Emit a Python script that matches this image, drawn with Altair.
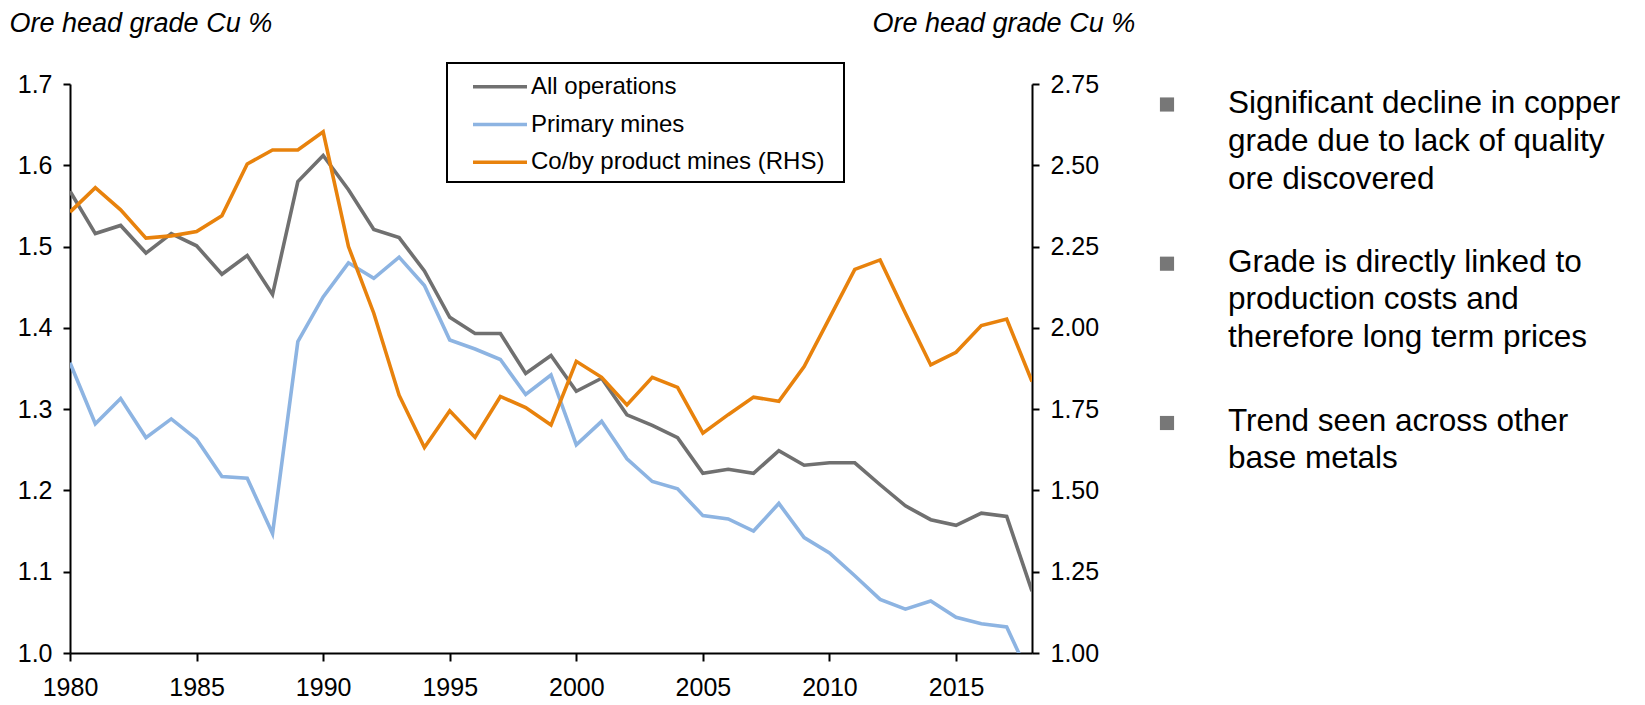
import altair as alt
import pandas as pd

# ---------------- data ----------------
years = list(range(1980, 2019))

all_operations = [1.568, 1.516, 1.526, 1.492, 1.516, 1.501, 1.466, 1.489, 1.441, 1.580,
                  1.612, 1.570, 1.521, 1.511, 1.470, 1.413, 1.393, 1.393, 1.344, 1.366,
                  1.322, 1.338, 1.293, 1.280, 1.265, 1.221, 1.226, 1.221, 1.249, 1.231,
                  1.234, 1.234, 1.207, 1.181, 1.164, 1.157, 1.172, 1.168, 1.076]

primary_mines = [1.357, 1.282, 1.313, 1.265, 1.288, 1.263, 1.217, 1.215, 1.147, 1.383,
                 1.438, 1.480, 1.461, 1.487, 1.452, 1.385, 1.374, 1.361, 1.318, 1.342,
                 1.256, 1.285, 1.239, 1.211, 1.202, 1.169, 1.165, 1.150, 1.184, 1.142,
                 1.123, 1.095, 1.066, 1.054, 1.064, 1.044, 1.036, 1.032, 0.965]

coby_product_mines = [2.356, 2.431, 2.363, 2.276, 2.283, 2.296, 2.345, 2.504, 2.547, 2.547,
                      2.603, 2.250, 2.045, 1.793, 1.632, 1.745, 1.663, 1.789, 1.755, 1.701,
                      1.897, 1.848, 1.763, 1.848, 1.817, 1.676, 1.733, 1.787, 1.774, 1.881,
                      2.030, 2.180, 2.209, 2.045, 1.886, 1.925, 2.007, 2.027, 1.835]

series_names = ["All operations", "Primary mines", "Co/by product mines (RHS)"]
series_colors = ["#707070", "#8DB4E2", "#E8820C"]

axis_title = "Ore head grade Cu %"
x_ticks = [1980, 1985, 1990, 1995, 2000, 2005, 2010, 2015]
left_ticks = [1.0, 1.1, 1.2, 1.3, 1.4, 1.5, 1.6, 1.7]
right_ticks = [1.0, 1.25, 1.5, 1.75, 2.0, 2.25, 2.5, 2.75]

bullet_texts = [
    "Significant decline in copper\ngrade due to lack of quality\nore discovered",
    "Grade is directly linked to\nproduction costs and\ntherefore long term prices",
    "Trend seen across other\nbase metals",
]

# ---------------- layout / style ----------------
FONT = "Liberation Sans"
W, H = 962, 569

left_df = pd.DataFrame({
    "year": years * 2,
    "value": all_operations + primary_mines,
    "series": [series_names[0]] * len(years) + [series_names[1]] * len(years),
})
right_df = pd.DataFrame({
    "year": years,
    "value": coby_product_mines,
    "series": [series_names[2]] * len(years),
})
legend_df = pd.DataFrame({"series": series_names})

color = alt.Color(
    "series:N",
    scale=alt.Scale(domain=series_names, range=series_colors),
    legend=None,
)

x_enc = alt.X(
    "year:Q",
    scale=alt.Scale(domain=[1980, 2018], nice=False, zero=False),
    axis=alt.Axis(values=x_ticks, format="d", title=None, labelPadding=14,
                  tickSize=8, labelFontSize=25, labelFlush=False),
)

left_axis = alt.Axis(
    orient="left", values=left_ticks, format=".1f", title=axis_title,
    titleAngle=0, titleX=-61, titleY=-53, titleAlign="left", titleBaseline="alphabetic",
    titleFontStyle="italic", titleFontWeight="normal", titleFontSize=27,
    labelPadding=11, tickSize=7,
)
right_axis = alt.Axis(
    orient="right", values=right_ticks, format=".2f", title=axis_title,
    titleAngle=0, titleX=-160, titleY=-53, titleAlign="left", titleBaseline="alphabetic",
    titleFontStyle="italic", titleFontWeight="normal", titleFontSize=27,
    labelPadding=11, tickSize=7,
)

# legend (drawn by hand: box, line swatches, labels)
legend_box = alt.Chart(pd.DataFrame({"k": [0]})).mark_rect(
    fill="white", stroke="black", strokeWidth=2
).encode(x=alt.value(377), x2=alt.value(774), y=alt.value(-21), y2=alt.value(98))

legend_y = alt.Y("series:N", scale=alt.Scale(type="point", domain=series_names,
                                              range=[2.7, 78.3], padding=0), axis=None)
legend_lines = alt.Chart(legend_df).mark_rule(strokeWidth=3.5).encode(
    x=alt.value(403), x2=alt.value(457), y=legend_y, color=color
)
legend_labels = alt.Chart(legend_df).mark_text(
    align="left", baseline="middle", fontSize=24, font=FONT, color="black"
).encode(x=alt.value(461), y=legend_y, text="series:N")

left = alt.Chart(left_df).mark_line(strokeWidth=3.6, clip=True).encode(
    x=x_enc,
    y=alt.Y("value:Q", scale=alt.Scale(domain=[1.0, 1.7], nice=False, zero=False), axis=left_axis),
    color=color,
)
right = alt.Chart(right_df).mark_line(strokeWidth=3.6, clip=True).encode(
    x=x_enc,
    y=alt.Y("value:Q", scale=alt.Scale(domain=[1.0, 2.75], nice=False, zero=False), axis=right_axis),
    color=color,
)

bullet_y = [20.5, 179.7, 339]
text_y = [29.3, 187.7, 346.7]
annots = []
for txt, by, ty in zip(bullet_texts, bullet_y, text_y):
    d = pd.DataFrame({"t": [txt]})
    annots.append(
        alt.Chart(d).mark_square(size=200, color="#777777", opacity=1)
        .encode(x=alt.value(1097), y=alt.value(by))
    )
    annots.append(
        alt.Chart(d).mark_text(align="left", baseline="alphabetic", fontSize=31.5, font=FONT,
                               lineBreak="\n", lineHeight=37.8, color="black")
        .encode(text="t:N", x=alt.value(1158), y=alt.value(ty))
    )

chart = (
    alt.layer(legend_box, left, right, legend_lines, legend_labels, *annots)
    .resolve_scale(y="independent")
    .properties(
        width=W, height=H,
        autosize=alt.AutoSizeParams(type="none"),
        padding={"left": 62, "top": 76, "right": 605, "bottom": 49},
    )
    .configure_view(stroke=None)
    .configure_axis(
        domainColor="black", domainWidth=2, tickColor="black", tickWidth=2,
        labelColor="black", labelFont=FONT, labelFontSize=25,
        titleFont=FONT, titleColor="black", grid=False,
    )
)

chart.save("out.html", embed_options={"renderer": "svg", "actions": False})
